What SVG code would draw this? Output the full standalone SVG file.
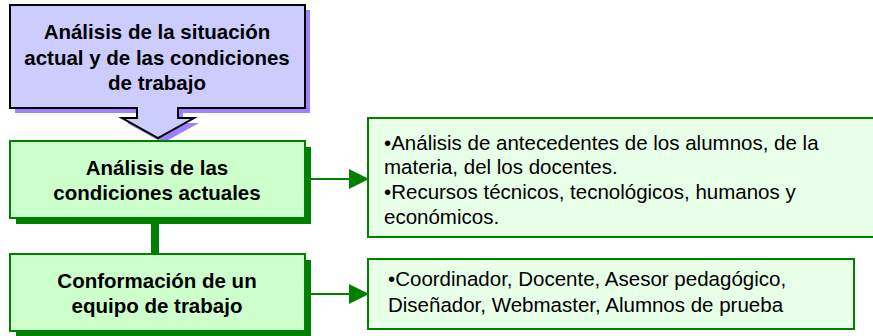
<svg xmlns="http://www.w3.org/2000/svg" width="873" height="336" viewBox="0 0 873 336">
<style>
.hb{font-family:"Liberation Sans",Arial,sans-serif;font-weight:bold;font-size:20.5px;fill:#000;text-anchor:middle}
.tx{font-family:"Liberation Sans",Arial,sans-serif;font-size:20.5px;fill:#000}
.gbox{fill:#ccffcc;stroke:#008000;stroke-width:2}
.gshadow{fill:#008000}
.lbox{fill:#e8ffe8;stroke:#008000;stroke-width:2}
.conn{stroke:#008000;fill:none}
</style>
<defs>
<marker id="ah" markerWidth="20" markerHeight="20" refX="19" refY="10" orient="auto" markerUnits="userSpaceOnUse">
<path d="M0,0 L20,10 L0,20 Z" fill="#008000"/>
</marker>
</defs>
<rect width="873" height="336" fill="#fff"/>
<g id="connectors">
<line class="conn" x1="155" y1="222" x2="155" y2="255" stroke-width="8"/>
<line class="conn" x1="311" y1="179" x2="368" y2="179" stroke-width="2" marker-end="url(#ah)"/>
<line class="conn" x1="311" y1="294" x2="368" y2="294" stroke-width="2" marker-end="url(#ah)"/>
</g>
<g id="node-situacion">
<path d="M10,5 H305 V108 H178 V118 H194 L158,138 L122,118 H137 V108 H10 Z" fill="#9f80ff" transform="translate(5,5)"/>
<path d="M10,5 H305 V108 H178 V118 H194 L158,138 L122,118 H137 V108 H10 Z" fill="#ccccff" stroke="#000" stroke-width="2"/>
<text class="hb" x="157" y="39">Análisis de la situación</text>
<text class="hb" x="157" y="65">actual y de las condiciones</text>
<text class="hb" x="157" y="90">de trabajo</text>
</g>
<g id="node-analisis">
<rect class="gshadow" x="16" y="147" width="295" height="77"/>
<rect class="gbox" x="10" y="141" width="295" height="77"/>
<text class="hb" x="157" y="175">Análisis de las</text>
<text class="hb" x="157" y="200">condiciones actuales</text>
</g>
<g id="node-equipo">
<rect class="gshadow" x="16" y="260" width="295" height="77"/>
<rect class="gbox" x="10" y="254" width="295" height="77"/>
<text class="hb" x="157" y="288">Conformación de un</text>
<text class="hb" x="157" y="313">equipo de trabajo</text>
</g>
<g id="node-detalle1">
<rect class="lbox" x="368" y="118" width="520" height="119"/>
<text class="tx" x="384" y="150">•Análisis de antecedentes de los alumnos, de la</text>
<text class="tx" x="384" y="174">materia, del los docentes.</text>
<text class="tx" x="384" y="199">•Recursos técnicos, tecnológicos, humanos y</text>
<text class="tx" x="384" y="224">económicos.</text>
</g>
<g id="node-detalle2">
<rect class="lbox" x="368" y="259" width="486" height="70"/>
<text class="tx" x="388" y="286">•Coordinador, Docente, Asesor pedagógico,</text>
<text class="tx" x="388" y="312">Diseñador, Webmaster, Alumnos de prueba</text>
</g>
</svg>
